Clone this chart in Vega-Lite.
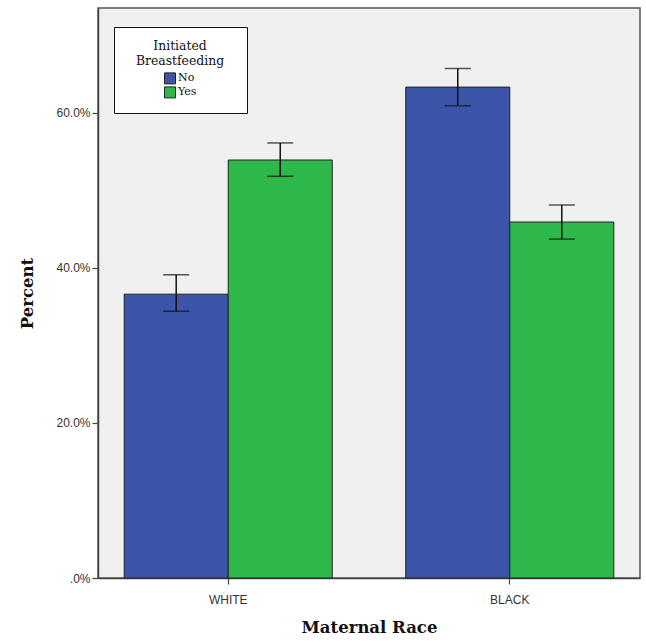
{
  "$schema": "https://vega.github.io/schema/vega-lite/v6.json",
  "width": 542,
  "height": 570,
  "autosize": "none",
  "padding": {"left": 98, "top": 8, "right": 6, "bottom": 65},
  "background": "white",
  "config": {
    "view": {"fill": "#f0f0f0", "stroke": "#555555", "strokeWidth": 1.5},
    "axis": {"grid": false, "domainColor": "#444444", "tickColor": "#444444", "domainWidth": 1.5, "tickWidth": 1.2, "tickSize": 6,
      "labelFont": "Liberation Sans", "labelFontSize": 12, "labelColor": "#333333",
      "titleFont": "DejaVu Serif", "titleFontSize": 16.5, "titleFontWeight": "bold", "titleColor": "#111111"}
  },
  "data": {"values": [
    {"race": "WHITE", "bf": "No", "pct": 36.6, "lo": 34.4, "hi": 39.1},
    {"race": "WHITE", "bf": "Yes", "pct": 53.9, "lo": 51.8, "hi": 56.1},
    {"race": "BLACK", "bf": "No", "pct": 63.3, "lo": 60.9, "hi": 65.7},
    {"race": "BLACK", "bf": "Yes", "pct": 45.9, "lo": 43.7, "hi": 48.1}
  ]},
  "encoding": {
    "x": {"field": "race", "type": "nominal", "sort": ["WHITE", "BLACK"],
      "scale": {"paddingInner": 0.261, "paddingOuter": 0.093},
      "axis": {"title": "Maternal Race", "labelAngle": 0, "labelPadding": 10, "titlePadding": 14}},
    "xOffset": {"field": "bf", "type": "nominal", "sort": ["No", "Yes"], "scale": {"paddingInner": 0, "paddingOuter": 0}}
  },
  "layer": [
    {
      "mark": {"type": "bar", "stroke": "#222222", "strokeWidth": 1},
      "encoding": {
        "y": {"field": "pct", "type": "quantitative", "scale": {"domain": [0, 73.5], "nice": false},
          "axis": {"title": "Percent", "values": [0, 20, 40, 60], "labelExpr": "datum.value == 0 ? '.0%' : format(datum.value, '.1f') + '%'", "titlePadding": 20}},
        "color": {"field": "bf", "type": "nominal", "sort": ["No", "Yes"],
          "scale": {"domain": ["No", "Yes"], "range": ["#3d55a8", "#2eb84a"]},
          "legend": {"title": ["Initiated", "\u2800Breastfeeding\u2800"], "orient": "none", "legendX": 16, "legendY": 19,
            "fillColor": "white", "strokeColor": "#111111", "padding": 13,
            "titleFont": "DejaVu Serif", "titleFontSize": 12.4, "titleFontWeight": "normal", "titleColor": "#111111",
            "titleAlign": "center", "titleAnchor": "middle", "titleLineHeight": 15, "titlePadding": 5,
            "labelFont": "DejaVu Serif", "labelFontSize": 11, "labelColor": "#111111", "labelOffset": 2,
            "symbolType": "square", "symbolSize": 121, "symbolStrokeColor": "#222222", "symbolStrokeWidth": 1,
            "symbolOffset": 0, "rowPadding": -5}}
      }
    },
    {
      "mark": {"type": "rule", "color": "#111111", "strokeWidth": 1.5},
      "encoding": {"y": {"field": "lo", "type": "quantitative"}, "y2": {"field": "hi"}}
    },
    {
      "mark": {"type": "tick", "color": "#111111", "thickness": 1.5, "size": 26, "orient": "horizontal"},
      "encoding": {"y": {"field": "lo", "type": "quantitative"}}
    },
    {
      "mark": {"type": "tick", "color": "#111111", "thickness": 1.5, "size": 26, "orient": "horizontal"},
      "encoding": {"y": {"field": "hi", "type": "quantitative"}}
    }
  ]
}
